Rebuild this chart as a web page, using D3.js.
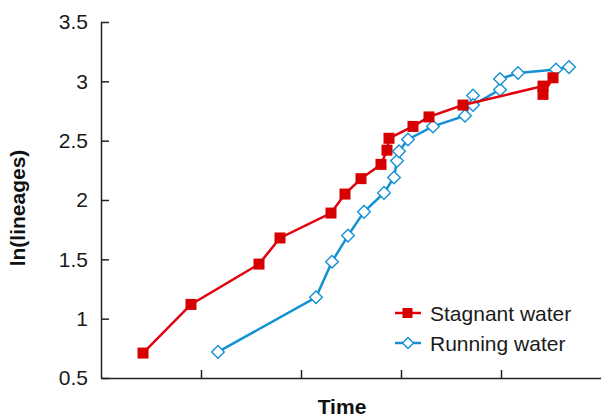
<!DOCTYPE html>
<html>
<head>
<meta charset="utf-8">
<script src="https://cdn.jsdelivr.net/npm/d3@7"></script>
<style>
  body { margin: 0; background: #fff; }
  svg { display: block; font-family: "Liberation Sans", Arial, sans-serif; }
</style>
</head>
<body>
<div id="chart"></div>
<script>
const width = 601, height = 419;

// series (time in axis units, ln(lineages))
const stagnantTime = [0.42, 0.90, 1.58, 1.79, 2.30, 2.44, 2.60, 2.80, 2.86, 2.88, 3.12, 3.28, 3.62, 4.42, 4.42, 4.52];
const stagnantLn   = [0.71, 1.12, 1.46, 1.68, 1.89, 2.05, 2.18, 2.30, 2.42, 2.52, 2.62, 2.70, 2.80, 2.96, 2.89, 3.03];
const runningTime  = [1.17, 2.15, 2.31, 2.47, 2.63, 2.83, 2.93, 2.96, 2.98, 3.07, 3.32, 3.64, 3.72, 3.72, 3.99, 3.99, 4.17, 4.55, 4.68];
const runningLn    = [0.72, 1.18, 1.48, 1.70, 1.90, 2.06, 2.19, 2.33, 2.41, 2.51, 2.62, 2.71, 2.88, 2.80, 2.93, 3.02, 3.07, 3.10, 3.12];
const yTicks = [0.5, 1, 1.5, 2, 2.5, 3, 3.5];
const xTicks = [1, 2, 3, 4];
const legendLabels = ["Stagnant water", "Running water"];

const redLine = "#e3000f", redMark = "#d60000", blue = "#1591d3";

const x = d3.scaleLinear().domain([0, 5]).range([101, 601]);
const y = d3.scaleLinear().domain([0.5, 3.5]).range([378, 22]);

const svg = d3.select("#chart").append("svg")
  .attr("width", width).attr("height", height);

// axes
const yAxis = svg.append("g")
  .attr("transform", `translate(${x(0)},0)`)
  .call(d3.axisLeft(y).tickValues(yTicks).tickSize(-8).tickSizeOuter(0).tickPadding(13).tickFormat(d => String(d)));
const xAxis = svg.append("g")
  .attr("transform", `translate(0,${y(0.5)})`)
  .call(d3.axisBottom(x).tickValues(xTicks).tickSize(-8).tickSizeOuter(0).tickFormat(""));

[yAxis, xAxis].forEach(g => {
  g.select(".domain").attr("stroke", "#222").attr("stroke-width", 1.5);
  g.selectAll(".tick line").attr("stroke", "#222").attr("stroke-width", 1.5);
  g.selectAll(".tick text").attr("fill", "#1a1a1a").attr("font-size", 21)
    .attr("font-family", "'Liberation Sans', Arial, sans-serif");
});

// axis titles
svg.append("text")
  .attr("transform", "translate(25,208) rotate(-90)")
  .attr("text-anchor", "middle")
  .attr("font-size", 21).attr("font-weight", "bold").attr("fill", "#111")
  .text("ln(lineages)");
svg.append("text")
  .attr("x", 342).attr("y", 414)
  .attr("text-anchor", "middle")
  .attr("font-size", 21).attr("font-weight", "bold").attr("fill", "#111")
  .text("Time");

const line = d3.line().x(d => x(d[0])).y(d => y(d[1]));
const stagnant = stagnantTime.map((t, i) => [t, stagnantLn[i]]);
const running = runningTime.map((t, i) => [t, runningLn[i]]);

const diamond = s => `M0,${-s}L${s},0L0,${s}L${-s},0Z`;

// running water
svg.append("path").datum(running)
  .attr("d", line).attr("fill", "none")
  .attr("stroke", blue).attr("stroke-width", 2.5);
svg.append("g").selectAll("path").data(running).join("path")
  .attr("transform", d => `translate(${x(d[0])},${y(d[1])})`)
  .attr("d", diamond(6.3))
  .attr("fill", "#fff").attr("stroke", blue).attr("stroke-width", 1.4);

// stagnant water
svg.append("path").datum(stagnant)
  .attr("d", line).attr("fill", "none")
  .attr("stroke", redLine).attr("stroke-width", 2.5);
svg.append("g").selectAll("rect").data(stagnant).join("rect")
  .attr("x", d => x(d[0]) - 5.5).attr("y", d => y(d[1]) - 5.5)
  .attr("width", 11).attr("height", 11)
  .attr("fill", redMark);

// legend
const legend = svg.append("g");
legendLabels.forEach((label, i) => {
  const ly = 313 + i * 30;
  const col = i === 0 ? redLine : blue;
  legend.append("line")
    .attr("x1", 395).attr("x2", 421).attr("y1", ly).attr("y2", ly)
    .attr("stroke", col).attr("stroke-width", 2.5);
  if (i === 0) {
    legend.append("rect").attr("x", 402.5).attr("y", ly - 5).attr("width", 10).attr("height", 10)
      .attr("fill", redMark);
  } else {
    legend.append("path").attr("transform", `translate(408,${ly})`).attr("d", diamond(5.5))
      .attr("fill", "#fff").attr("stroke", blue).attr("stroke-width", 1.4);
  }
  legend.append("text")
    .attr("x", 430).attr("y", ly + 7.5)
    .attr("font-size", 21).attr("fill", "#1a1a1a")
    .text(label);
});
</script>
</body>
</html>
